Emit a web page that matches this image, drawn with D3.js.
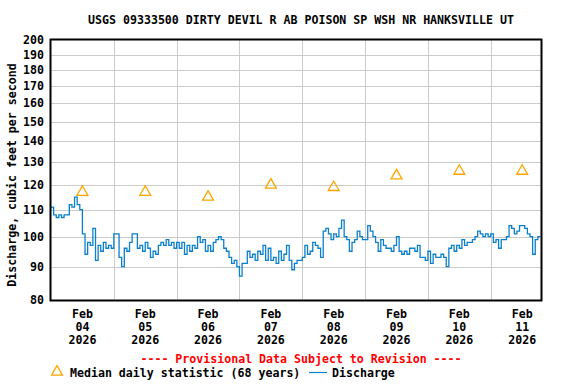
<!DOCTYPE html>
<html>
<head>
<meta charset="utf-8">
<script src="https://cdn.jsdelivr.net/npm/d3@7"></script>
<style>
  body { margin: 0; background: #fff; }
  text { font-family: "DejaVu Sans Mono", monospace; font-weight: bold; font-size: 11.6px; }
</style>
</head>
<body>
<svg id="chart" width="576" height="384"></svg>
<script>
const title = "USGS 09333500 DIRTY DEVIL R AB POISON SP WSH NR HANKSVILLE UT"
const yTicks = [80, 90, 100, 110, 120, 130, 140, 150, 160, 170, 180, 190, 200]
const dayLabels = ["04", "05", "06", "07", "08", "09", "10", "11"]
// median daily statistic, one per day (noon)
const medianValues = [117, 117, 115, 120, 119, 124, 126, 126]
// hourly discharge from Feb 04 00:00
const dischargeValues = [
  111,108,107,108,107,108,108,112,111,115,112,110,101,94,98,97,103,92,97,95,98,96,97,96,
  101,101,93,90,96,95,98,101,101,96,97,95,98,96,93,95,94,97,98,97,99,97,98,96,
  98,96,98,94,97,95,97,96,100,98,99,95,97,95,98,99,100,99,96,95,93,91,92,90,
  87,91,91,95,93,94,92,95,94,97,92,96,92,93,91,95,92,94,97,92,89,91,92,92,
  93,97,94,95,98,97,96,93,102,103,101,99,101,100,103,106,100,99,95,98,99,102,100,99,
  99,104,102,100,98,95,99,97,96,96,95,97,100,95,94,95,94,96,96,95,97,93,93,92,
  95,91,94,93,93,94,93,90,96,97,95,97,96,99,97,98,98,99,100,102,101,100,101,100,
  101,98,99,96,99,99,100,104,103,101,102,104,104,103,101,100,94,99,100,100
]

const svg = d3.select("#chart")
const mLeft = 51, mRight = 541, mTop = 40, mBottom = 300
const start = new Date(2026, 1, 4, 0, 0)
const hour = 3600 * 1000

const x = d3.scaleTime()
  .domain([start, new Date(start.getTime() + 187.2 * hour)])
  .range([mLeft, mRight])
const y = d3.scaleLog().domain([80, 200]).range([mBottom, mTop])

// grid
svg.append("g").selectAll("line").data(yTicks.slice(1, -1)).join("line")
  .attr("x1", mLeft).attr("x2", mRight)
  .attr("y1", d => Math.round(y(d)) + 0.5).attr("y2", d => Math.round(y(d)) + 0.5)
  .attr("stroke", "#cccccc")
const midnights = d3.range(1, 8).map(i => new Date(start.getTime() + i * 24 * hour))
svg.append("g").selectAll("line").data(midnights).join("line")
  .attr("x1", d => Math.round(x(d)) + 0.5).attr("x2", d => Math.round(x(d)) + 0.5)
  .attr("y1", mTop).attr("y2", mBottom)
  .attr("stroke", "#cccccc")

// discharge
const pts = dischargeValues.map((v, i) => [new Date(start.getTime() + i * hour), v])
svg.append("path").datum(pts)
  .attr("fill", "none").attr("stroke", "#0a80cc").attr("stroke-width", 1.3)
  .attr("d", d3.line().x(d => x(d[0])).y(d => y(d[1])).curve(d3.curveStepAfter))

// median triangles
const tri = d3.symbol().type(d3.symbolTriangle).size(52)
svg.append("g").selectAll("path").data(medianValues).join("path")
  .attr("transform", (d, i) => `translate(${x(new Date(start.getTime() + (i * 24 + 12) * hour))},${y(d)})`)
  .attr("d", tri).attr("fill", "none").attr("stroke", "#ffa500").attr("stroke-width", 1.3)

// frame
svg.append("rect").attr("x", mLeft - 0.5).attr("y", mTop - 0.5)
  .attr("width", mRight - mLeft + 1).attr("height", mBottom - mTop + 1)
  .attr("fill", "none").attr("stroke", "#000").attr("stroke-width", 2)

// y axis labels
svg.append("g").selectAll("text").data(yTicks).join("text")
  .attr("x", 44).attr("y", d => y(d) + 4)
  .attr("text-anchor", "end").text(d => d)

// x axis labels
const xl = svg.append("g").selectAll("text").data(dayLabels).join("text")
  .attr("text-anchor", "middle")
  .attr("transform", (d, i) => `translate(${x(new Date(start.getTime() + (i * 24 + 12) * hour))},0)`)
xl.append("tspan").attr("x", 0).attr("y", 318).text("Feb")
xl.append("tspan").attr("x", 0).attr("y", 331).text(d => d)
xl.append("tspan").attr("x", 0).attr("y", 344).text("2026")

svg.append("text").attr("x", 301).attr("y", 24).attr("text-anchor", "middle").text(title)
svg.append("text").attr("transform", "translate(16,175) rotate(-90)")
  .attr("text-anchor", "middle").text("Discharge, cubic feet per second")
svg.append("text").attr("x", 301).attr("y", 363).attr("text-anchor", "middle")
  .attr("fill", "#ff0000").text("---- Provisional Data Subject to Revision ----")

// legend
svg.append("path").attr("d", tri).attr("transform", "translate(57,372)")
  .attr("fill", "none").attr("stroke", "#ffa500").attr("stroke-width", 1.3)
svg.append("text").attr("x", 70).attr("y", 377).text("Median daily statistic (68 years)")
svg.append("line").attr("x1", 309).attr("x2", 327).attr("y1", 372.5).attr("y2", 372.5)
  .attr("stroke", "#0a80cc").attr("stroke-width", 1.2)
svg.append("text").attr("x", 332).attr("y", 377).text("Discharge")
</script>
</body>
</html>
